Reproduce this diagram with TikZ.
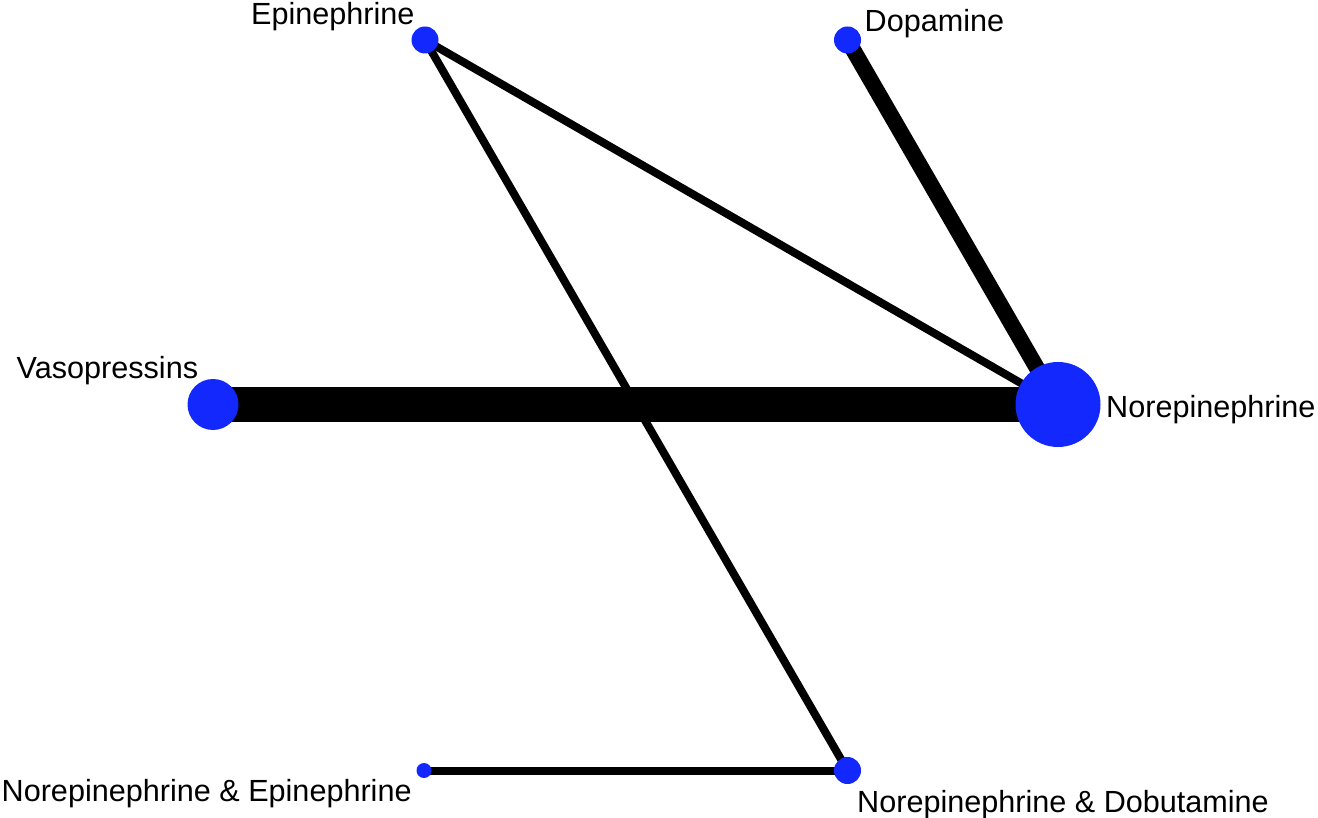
\documentclass[tikz,border=0pt]{standalone}
\usepackage{fontspec}
\setmainfont{Liberation Sans}
\definecolor{nodeblue}{RGB}{18,40,252}
\begin{document}
\begin{tikzpicture}[x=1pt,y=-1pt,
  vert/.style={circle,fill=nodeblue,draw=none,inner sep=0pt},
  lbl/.style={anchor=base west,inner sep=0pt,font=\fontsize{30.6}{37}\selectfont},
  edge/.style={draw=black,line cap=butt}]
\useasboundingbox (0,0) rectangle (1318,818);
% node positions
\coordinate (epi) at (425,40);
\coordinate (dop) at (847.5,40);
\coordinate (vas) at (213,404.5);
\coordinate (nor) at (1058,404.5);
\coordinate (nee) at (424,770.5);
\coordinate (ned) at (847.5,770.5);
% edges
\draw[edge,line width=34pt] (vas) -- (nor);
\draw[edge,line width=16pt] (dop) -- (nor);
\draw[edge,line width=8pt] (epi) -- (nor);
\draw[edge,line width=8pt] (epi) -- (ned);
\draw[edge,line width=8pt] (nee) -- (ned);
% vertices
\node[vert,minimum size=27pt] (Nepi) at (epi) {};
\node[vert,minimum size=27pt] (Ndop) at (dop) {};
\node[vert,minimum size=51pt] (Nvas) at (vas) {};
\node[vert,minimum size=85pt] (Nnor) at (nor) {};
\node[vert,minimum size=15pt] (Nnee) at (nee) {};
\node[vert,minimum size=27pt] (Nned) at (ned) {};
% labels
\node[lbl] (Lepi) at (251,25) {Epinephrine};
\node[lbl] (Ldop) at (864.5,31.7) {Dopamine};
\node[lbl] (Lvas) at (16.5,378) {Vasopressins};
\node[lbl] (Lnor) at (1106,417.7) {Norepinephrine};
\node[lbl] (Lnee) at (1.5,801.7) {Norepinephrine \& Epinephrine};
\node[lbl] (Lned) at (857,812.7) {Norepinephrine \& Dobutamine};
\end{tikzpicture}
\end{document}
